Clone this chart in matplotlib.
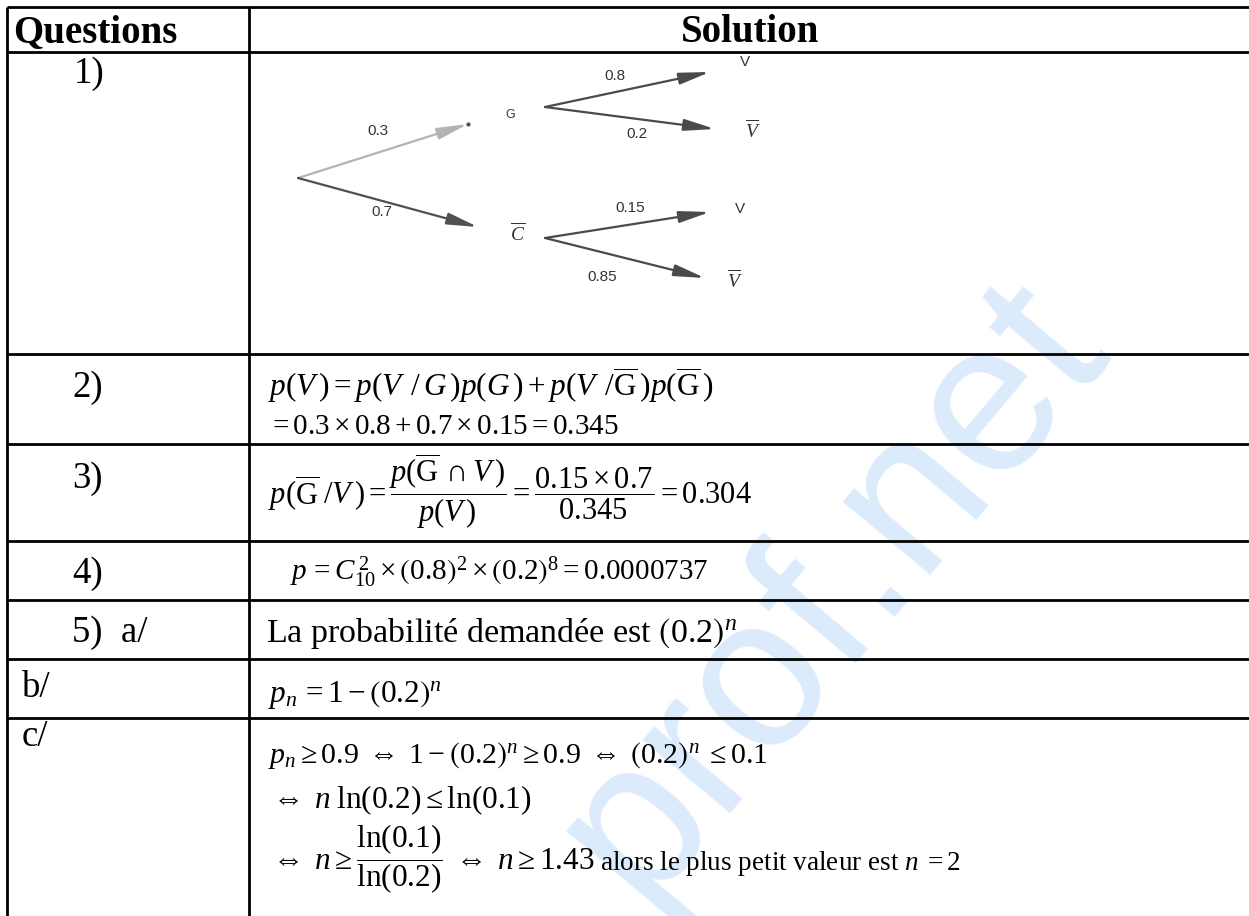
import matplotlib
matplotlib.use("Agg")
import matplotlib.pyplot as plt
from matplotlib.patches import FancyArrowPatch, ArrowStyle, Rectangle

plt.rcParams['font.family'] = ['Liberation Serif', 'DejaVu Serif']
plt.rcParams['mathtext.fontset'] = 'custom'
plt.rcParams['mathtext.rm'] = 'Liberation Serif'
plt.rcParams['mathtext.it'] = 'Liberation Serif:italic'
plt.rcParams['mathtext.bf'] = 'Liberation Serif:bold'
plt.rcParams['mathtext.fallback'] = 'stix'

# --- contenu du tableau ---
headers = ["Questions", "Solution"]
questions = ["1)", "2)", "3)", "4)", "5)  a/", "b/", "c/"]

# probabilités de l'arbre
p_first = [0.3, 0.7]          # G, G barre
p_given_g = [0.8, 0.2]        # V, V barre sachant G
p_given_gbar = [0.15, 0.85]   # V, V barre sachant G barre

solutions = [
    r"$p(V\,)=p(V\;\,/\,G\,)p(G\,)+p(V\;\,/\overline{\mathrm{G}}\,)p(\overline{\mathrm{G}}\,)$",
    r"$=0.3\times0.8+0.7\times0.15=0.345$",
    r"$p(\overline{\mathrm{G}}\;/V\,)=\dfrac{p(\overline{\mathrm{G}}\,\cap V\,)}{p(V\,)}=\dfrac{0.15\times0.7}{0.345}=0.304$",
    r"$p\,=C_{10}^{\,2}\times\left(0.8\right)^{2}\times\left(0.2\right)^{8}=0.0000737$",
    r"La probabilité demandée est $\left(0.2\right)^{n}$",
    r"$p_{n}\,=1-\left(0.2\right)^{n}$",
    r"$p_{n}\geq0.9\;\Leftrightarrow\;1-\left(0.2\right)^{n}\geq0.9\;\Leftrightarrow\;\left(0.2\right)^{n}\;\leq0.1$",
    r"$\Leftrightarrow\; n\;\ln(0.2)\leq\ln(0.1)$",
    r"$\Leftrightarrow\; n\geq\dfrac{\ln(0.1)}{\ln(0.2)}\;\Leftrightarrow\; n\geq1.43$",
    r"alors le plus petit valeur est $n\;=2$",
]

# --- mise en page (pixels) ---
W, H = 1249, 916
row_lines = [7, 52, 354, 444, 541, 600, 659, 718]
col_lines = [7, 249]
q_pos = [(74, 83), (72, 397), (72, 488), (72, 583), (72, 642), (22, 697), (22, 746)]
sol_pos = [(268, 396), (268, 434), (268, 505), (290, 580), (266, 642),
           (268, 702), (268, 763), (268, 808), (268, 870), (600, 870)]
sol_size = [22.5, 21, 22, 21, 24.5, 22.5, 21.5, 22.5, 22.5, 19.5]

fig = plt.figure(figsize=(W / 100, H / 100), dpi=100)
ax = fig.add_axes([0, 0, 1, 1])
ax.set_xlim(0, W)
ax.set_ylim(H, 0)
ax.axis('off')

# filigrane
ax.text(640, 905, "prof.net", fontsize=155, family='Liberation Sans',
        color='#dcebfc', rotation=50, rotation_mode='anchor',
        ha='left', va='baseline', zorder=0)

# lignes du tableau
for y in row_lines:
    ax.plot([col_lines[0], W], [y, y], color='black', lw=2.0, zorder=3,
            solid_capstyle='butt')
for x in col_lines:
    ax.plot([x, x], [row_lines[0], H], color='black', lw=2.0, zorder=3,
            solid_capstyle='butt')

# en-têtes
ax.text(13, 42, headers[0], fontsize=28, fontweight='bold', ha='left', va='baseline')
ax.text(750, 42, headers[1], fontsize=28, fontweight='bold', ha='center', va='baseline')

for (x, y), q in zip(q_pos, questions):
    ax.text(x, y, q, fontsize=26.5, ha='left', va='baseline')

for (x, y), s, fs in zip(sol_pos, solutions, sol_size):
    ax.text(x, y, s, fontsize=fs, ha='left', va='baseline', zorder=4)

# --- arbre de probabilités ---
clip = Rectangle((255, 50), 575, 232, transform=ax.transData, fill=False, lw=0)
ax.add_patch(clip)
clip.set_visible(False)

root = (298, 178)
nodes_first = [(468, 124), (478, 227)]
starts_second = [(545, 107), (545, 238)]
ends_second = [[(710, 72), (715, 129)], [(710, 212), (705, 278)]]
first_lbl = [(378, 131), (382, 212)]
second_lbl = [[(615, 76), (637, 134)], [(630, 208), (602, 277)]]
node_lbl = [(510, 115), (518, 233)]
leaf_lbl = [[(745, 62), (753, 130)], [(740, 209), (735, 280)]]

style = ArrowStyle('-|>', head_length=1.7, head_width=0.32)


def fleche(a, b, col):
    fa = FancyArrowPatch(a, b, arrowstyle=style, mutation_scale=11, color=col,
                         lw=1.6, shrinkA=0, shrinkB=0)
    ax.add_patch(fa)
    fa.set_clip_path(clip)


first_cols = ['#b4b4b4', '#505050']
for i in range(2):
    fleche(root, nodes_first[i], first_cols[i])
    ax.text(*first_lbl[i], f"{p_first[i]}", fontsize=11, family='Liberation Sans',
            color='#333333', ha='center', va='center')
ax.plot(*nodes_first[0], marker='o', ms=2, color='#505050')

ax.text(*node_lbl[0], "G", fontsize=9, family='Liberation Sans', color='#333333',
        ha='center', va='center')
ax.text(*node_lbl[1], r"$\overline{C}$", fontsize=14, color='#333333',
        ha='center', va='center')

second_probs = [p_given_g, p_given_gbar]
for i in range(2):
    for j in range(2):
        fleche(starts_second[i], ends_second[i][j], '#4a4a4a')
        t = ax.text(*second_lbl[i][j], f"{second_probs[i][j]}", fontsize=11,
                    family='Liberation Sans', color='#333333', ha='center', va='center')
        t.set_clip_path(clip)
        if j == 0:
            lt = ax.text(*leaf_lbl[i][j], "V", fontsize=11, family='Liberation Sans',
                         color='#333333', ha='center', va='center')
        else:
            lt = ax.text(*leaf_lbl[i][j], r"$\overline{V}$", fontsize=14,
                         color='#333333', ha='center', va='center')
        lt.set_clip_path(clip)

fig.savefig("out.png", dpi=100)
